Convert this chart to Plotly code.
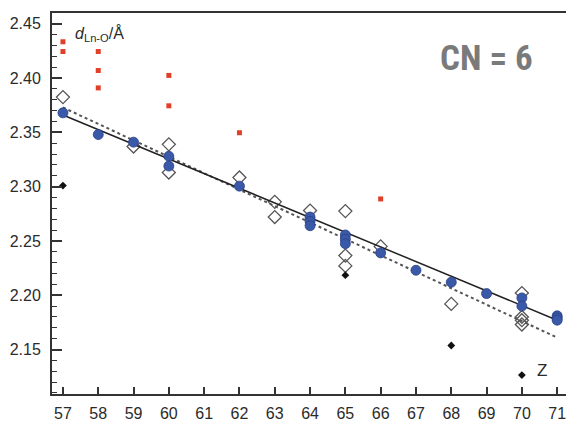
import plotly.graph_objects as go

# ---- data ----
blue_z = [57, 58, 59, 60, 60, 62, 64, 64, 64, 65, 65, 65, 66, 67, 68, 69, 70, 70, 71, 71, 71]
blue_d = [2.368, 2.348, 2.341, 2.328, 2.319, 2.3005, 2.272, 2.268, 2.264, 2.2555, 2.2515, 2.2475,
          2.239, 2.223, 2.212, 2.2015, 2.1975, 2.190, 2.181, 2.179, 2.177]

open_z = [57, 59, 60, 60, 62, 63, 63, 64, 65, 65, 65, 66, 68, 70, 70, 70, 70]
open_d = [2.3825, 2.337, 2.339, 2.313, 2.3085, 2.286, 2.272, 2.278, 2.2775, 2.2365, 2.227,
          2.245, 2.192, 2.202, 2.180, 2.177, 2.173]

red_z = [57, 57, 58, 58, 58, 60, 60, 62, 66]
red_d = [2.4335, 2.4245, 2.4245, 2.407, 2.391, 2.4025, 2.3745, 2.3497, 2.2887]

black_z = [57, 65, 68, 70]
black_d = [2.301, 2.2185, 2.1537, 2.1264]

solid_z = [57, 71]
solid_d = [2.366, 2.177]
dotted_z = [57, 71]
dotted_d = [2.373, 2.161]

x_ticks = list(range(57, 72))
y_ticks = [2.15, 2.20, 2.25, 2.30, 2.35, 2.40, 2.45]

fig = go.Figure()

fig.add_trace(go.Scatter(x=open_z, y=open_d, mode="markers",
                         marker=dict(symbol="diamond-open", size=10, color="#555555",
                                     line=dict(width=1.3, color="#555555"))))
fig.add_trace(go.Scatter(x=red_z, y=red_d, mode="markers",
                         marker=dict(symbol="square", size=5, color="#e0402a")))
fig.add_trace(go.Scatter(x=black_z, y=black_d, mode="markers",
                         marker=dict(symbol="diamond", size=6, color="#111111")))
fig.add_trace(go.Scatter(x=dotted_z, y=dotted_d, mode="lines",
                         line=dict(color="#555555", width=2, dash="dot")))
fig.add_trace(go.Scatter(x=solid_z, y=solid_d, mode="lines",
                         line=dict(color="#222222", width=1.5)))
fig.add_trace(go.Scatter(x=blue_z, y=blue_d, mode="markers",
                         marker=dict(symbol="circle", size=10, color="#3a59a8",
                                     line=dict(width=0.8, color="#2a4088"))))

fig.add_annotation(x=57.28, y=2.441, xref="x", yref="y",
                   text="<i>d</i><sub>Ln-O</sub>/Å", showarrow=False,
                   xanchor="left", yanchor="middle",
                   font=dict(family="Liberation Sans, Arial", size=16, color="#2b2b2b"))
fig.add_annotation(x=69.01, y=2.418, xref="x", yref="y",
                   text="<b>CN = 6</b>", showarrow=False,
                   xanchor="center", yanchor="middle",
                   font=dict(family="Liberation Sans Narrow, Roboto Condensed, Roboto, Arial",
                             size=35, color="#7a7a7a"))
fig.add_annotation(x=70.57, y=2.131, xref="x", yref="y",
                   text="Z", showarrow=False, xanchor="center", yanchor="middle",
                   font=dict(family="Liberation Sans, Arial", size=17, color="#2b2b2b"))

fig.update_layout(
    width=566, height=422,
    margin=dict(l=52, r=0, t=13, b=24),
    paper_bgcolor="white", plot_bgcolor="white",
    showlegend=False,
    font=dict(family="Liberation Sans, Arial", size=16, color="#2b2b2b"),
)
fig.update_xaxes(range=[56.69, 71.25], tickvals=x_ticks, ticktext=[str(v) for v in x_ticks],
                 ticks="inside", ticklen=7, tickwidth=1.5, tickcolor="#333333",
                 showline=True, linecolor="#333333", linewidth=2, mirror=True,
                 showgrid=False, zeroline=False, ticklabelstandoff=4,
                 ticklabeloverflow="allow")
fig.update_yaxes(range=[2.109, 2.46], tickvals=y_ticks, ticktext=[f"{v:.2f}" for v in y_ticks],
                 ticks="inside", ticklen=10, tickwidth=1.5, tickcolor="#333333",
                 minor=dict(ticks="inside", ticklen=5, dtick=0.01, tick0=2.10,
                            tickcolor="#333333", tickwidth=1.2),
                 showline=True, linecolor="#333333", linewidth=2, mirror=False,
                 showgrid=False, zeroline=False, ticklabelstandoff=6,
                 ticklabeloverflow="allow")

fig.write_html("out.html")
